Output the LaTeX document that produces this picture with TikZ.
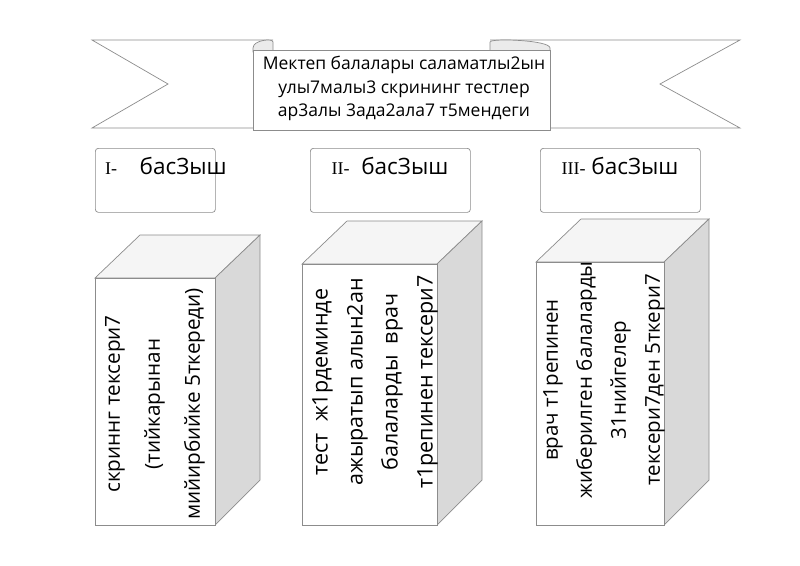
\documentclass[tikz,border=0pt]{standalone}
\usepackage{fontspec}
\setmainfont{Open Sans}
\newfontfamily\serifroman{Liberation Serif}
\begin{document}
\begin{tikzpicture}[x=1pt,y=-1pt,
  edge/.style={draw=black!45,line width=0.7pt},
  phase/.style={draw=black!45,rounded corners=3pt,line width=0.7pt,fill=white},
  front/.style={edge,fill=white},
  side/.style={edge,fill=black!15},
  topf/.style={edge,fill=black!4},
  vtext/.style={rotate=90,align=center,font=\fontsize{20.7}{40}\selectfont}]
\useasboundingbox (0,0) rectangle (800,565);
% banner tails
\draw[edge,fill=white] (273,40) -- (92,40) -- (168,84) -- (92,128) -- (253,128);
\draw[edge,fill=white] (490,40) -- (740,40) -- (660,84) -- (740,128) -- (550,128);
% curls
\draw[edge,fill=black!8] (253,48) .. controls (253,40) and (273,38) .. (273,42) -- (273,52) -- (253,52) -- cycle;
\draw[edge,fill=black!8] (550,48) .. controls (550,40) and (490,38) .. (490,42) -- (490,52) -- (550,52) -- cycle;
\node[draw=black!45,line width=0.7pt,fill=white,minimum width=297pt,minimum height=80pt,anchor=north west,inner sep=0pt] (title) at (253,50) {};
\begin{scope}
\clip (253,50) rectangle (550,130);
\node[align=center,font=\fontsize{17.5}{23.5}\selectfont,anchor=north] (tt) at (404,53) {Мектеп балалары саламатлы2ын\\улы7малы3 скрининг тестлер\\ар3алы 3ада2ала7 т5мендеги};
\end{scope}
% phases
\node[phase,minimum width=120pt,minimum height=64pt,anchor=north west] (p1) at (95,148) {};
\node[phase,minimum width=160pt,minimum height=64pt,anchor=north west] (p2) at (310,148) {};
\node[phase,minimum width=160pt,minimum height=64pt,anchor=north west] (p3) at (540,148) {};
\node[font=\fontsize{22.5}{24}\selectfont] (l1) at (166,166) {{\serifroman\fontsize{18}{20}\selectfont I-}\quad басЗыш};
\node[font=\fontsize{22.5}{24}\selectfont] (l2) at (390,166) {{\serifroman\fontsize{18}{20}\selectfont II-}\ \ басЗыш};
\node[font=\fontsize{22.5}{24}\selectfont] (l3) at (620,166) {{\serifroman\fontsize{18}{20}\selectfont III-}\ басЗыш};
% boxes
\foreach \x/\w/\t in {95/120/278,302/135/264,536/128/262}{
  \draw[topf] (\x,\t) -- (\x+45,\t-43) -- (\x+\w+45,\t-43) -- (\x+\w,\t) -- cycle;
  \draw[side] (\x+\w,\t) -- (\x+\w+45,\t-43) -- (\x+\w+45,480) -- (\x+\w,525) -- cycle;
  \draw[front] (\x,\t) rectangle (\x+\w,525);
}
\node[vtext] (t1) at (155,404) {скриннг тексери7\\(тийкарынан\\мийирбийке 5ткереди)};
\node[vtext,font=\fontsize{21.5}{35}\selectfont] (t2) at (375,382) {тест \ ж1рдеминде\\ажыратып алын2ан\\балаларды \ врач\\т1репинен тексери7};
\node[vtext,font=\fontsize{20.5}{34}\selectfont] (t3) at (604,380) {врач т1репинен\\жиберилген балаларды\\31нийгелер\\тексери7ден 5ткери7};
\end{tikzpicture}
\end{document}
